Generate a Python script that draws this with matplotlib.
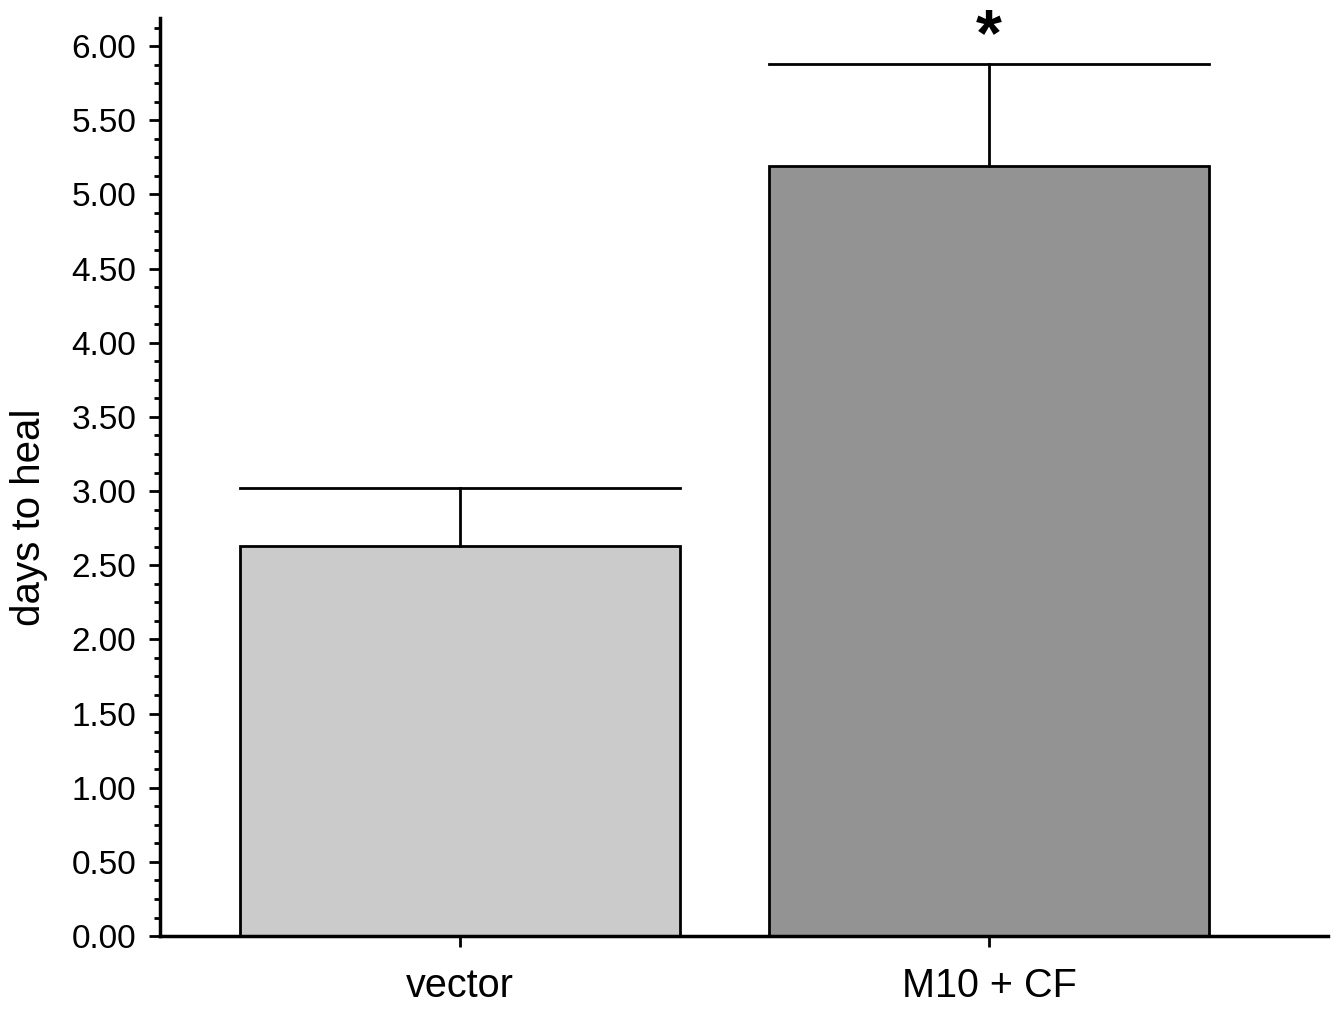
import matplotlib
matplotlib.use('Agg')
from matplotlib import pyplot as plt
from matplotlib.ticker import MultipleLocator, FormatStrFormatter
import numpy as np

plt.rcParams['font.family'] = ['Liberation Sans', 'DejaVu Sans']

# data
groups = ['vector', 'M10 + CF']
means = [2.63, 5.19]
errors = [0.39, 0.69]
colors = ['#cbcbcb', '#939393']

fig = plt.figure(figsize=(13.38, 10.09), dpi=100)
ax = fig.add_axes([0.1196, 0.0723, 0.873, 0.910])

x = np.arange(len(groups))
width = 0.832
ax.bar(x, means, width=width, color=colors, edgecolor='black', linewidth=2, zorder=2)

# error bars: vertical up from top, cap spanning the bar width
for xi, m, e in zip(x, means, errors):
    ax.plot([xi, xi], [m, m + e], color='black', lw=2, zorder=3)
    ax.plot([xi - width / 2, xi + width / 2], [m + e, m + e], color='black', lw=2, zorder=3)

ax.text(x[1], 5.94, '*', ha='center', va='baseline', fontsize=48,
        fontweight='bold', clip_on=False)

ax.set_xlim(-0.567, 1.641)
ax.set_ylim(0, 6.19)
ax.set_xticks(x)
ax.set_xticklabels(groups, fontsize=28.5)
ax.yaxis.set_major_locator(MultipleLocator(0.5))
ax.yaxis.set_minor_locator(MultipleLocator(0.125))
ax.yaxis.set_major_formatter(FormatStrFormatter('%.2f'))
ax.tick_params(axis='y', labelsize=24, width=2, length=8, pad=9)
ax.tick_params(axis='y', which='minor', width=2, length=4)
ax.tick_params(axis='x', width=2, length=8, pad=14)
ax.set_ylabel('days to heal', fontsize=29)
ax.yaxis.set_label_coords(-0.0955, 0.456)

for s in ['top', 'right']:
    ax.spines[s].set_visible(False)
for s in ['left', 'bottom']:
    ax.spines[s].set_linewidth(2.5)

plt.savefig('out.png', dpi=100)
